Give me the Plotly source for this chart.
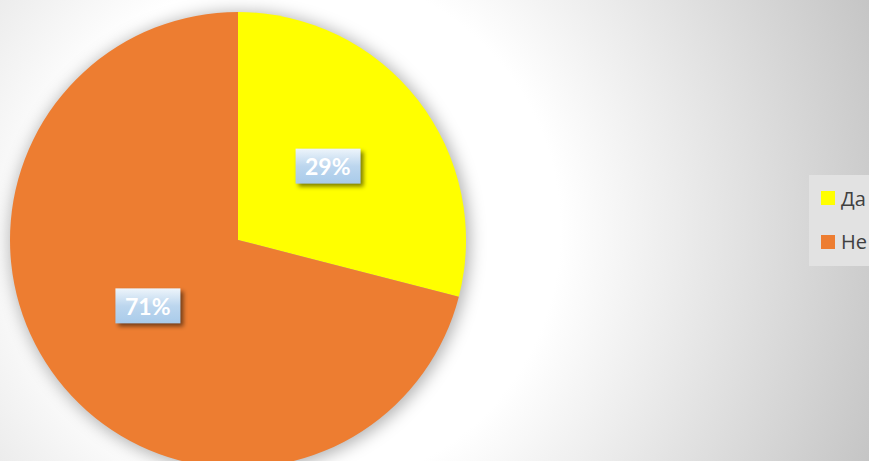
import base64
import math
import plotly.graph_objects as go

# Survey answers
labels = ["Да", "Не"]
values = [29, 71]
colors = ["#FFFF00", "#ED7D31"]

W, H = 869, 470
CX, CY, R = 238, 240, 228  # pie centre and radius in pixels


def px(x):
    return x / W


def py(y):
    return (H - y) / H


def svg_uri(svg):
    return "data:image/svg+xml;base64," + base64.b64encode(svg.encode("utf-8")).decode("ascii")


# background: soft radial grey gradient plus the pie's drop shadow
bg_svg = f"""<svg xmlns="http://www.w3.org/2000/svg" width="{W}" height="{H}" viewBox="0 0 {W} {H}">
<defs>
<radialGradient id="g" gradientUnits="userSpaceOnUse" cx="300" cy="230" r="620">
<stop offset="0" stop-color="#ffffff"/>
<stop offset="0.42" stop-color="#ffffff"/>
<stop offset="0.62" stop-color="#ebebeb"/>
<stop offset="1" stop-color="#c4c4c4"/>
</radialGradient>
<filter id="s" x="-20%" y="-20%" width="140%" height="140%">
<feGaussianBlur stdDeviation="8"/>
</filter>
</defs>
<rect width="{W}" height="{H}" fill="url(#g)"/>
<circle cx="{CX + 2}" cy="{CY + 2}" r="{R + 2}" fill="#000" fill-opacity="0.30" filter="url(#s)"/>
</svg>"""

BW, BH, PAD = 65, 35, 8
box_svg = f"""<svg xmlns="http://www.w3.org/2000/svg" width="{BW + 2 * PAD}" height="{BH + 2 * PAD}" viewBox="0 0 {BW + 2 * PAD} {BH + 2 * PAD}">
<defs>
<linearGradient id="b" x1="0" y1="0" x2="0" y2="1">
<stop offset="0" stop-color="#eef5fb"/>
<stop offset="0.5" stop-color="#bcd6ee"/>
<stop offset="1" stop-color="#a9cbea"/>
</linearGradient>
<filter id="f" x="-30%" y="-30%" width="160%" height="160%">
<feGaussianBlur stdDeviation="2"/>
</filter>
</defs>
<rect x="{PAD + 3}" y="{PAD + 3}" width="{BW}" height="{BH}" fill="#000" fill-opacity="0.5" filter="url(#f)"/>
<rect x="{PAD}" y="{PAD}" width="{BW}" height="{BH}" fill="url(#b)"/>
</svg>"""

fig = go.Figure(
    go.Pie(
        labels=labels,
        values=values,
        marker=dict(colors=colors, line=dict(width=0)),
        sort=False,
        direction="clockwise",
        rotation=0,
        textinfo="none",
        hoverinfo="label+percent",
        showlegend=False,
        domain=dict(x=[px(CX - R), px(CX + R)], y=[py(CY + R), py(CY - R)]),
    )
)

images = [
    dict(source=svg_uri(bg_svg), xref="paper", yref="paper", x=0, y=1,
         sizex=1, sizey=1, xanchor="left", yanchor="top", sizing="stretch", layer="below")
]
annotations = []
shapes = []

# percentage labels at the middle of each slice, half way out
total = sum(values)
start = 0.0
for lab, val in zip(labels, values):
    frac = val / total
    mid = (start + frac / 2) * 2 * math.pi
    start += frac
    lx = CX + 0.5 * R * math.sin(mid)
    ly = CY - 0.5 * R * math.cos(mid) - 4
    images.append(dict(
        source=svg_uri(box_svg), xref="paper", yref="paper",
        x=px(lx - BW / 2 - PAD), y=py(ly - BH / 2 - PAD),
        sizex=(BW + 2 * PAD) / W, sizey=(BH + 2 * PAD) / H,
        xanchor="left", yanchor="top", sizing="stretch", layer="above",
    ))
    annotations.append(dict(
        text=f"<b>{round(frac * 100)}%</b>", x=px(lx), y=py(ly), xref="paper", yref="paper",
        xanchor="center", yanchor="middle", showarrow=False,
        font=dict(family="Lato", size=23, color="#ffffff"),
    ))

# legend panel
shapes.append(dict(type="rect", xref="paper", yref="paper",
                   x0=px(809), x1=px(890), y0=py(266), y1=py(175),
                   fillcolor="#e2e2e2", line=dict(width=0), layer="below"))
for i, (lab, col) in enumerate(zip(labels, colors)):
    yc = 198 + i * 44
    shapes.append(dict(type="rect", xref="paper", yref="paper",
                       x0=px(821), x1=px(835), y0=py(yc + 7), y1=py(yc - 7),
                       fillcolor=col, line=dict(width=0)))
    annotations.append(dict(
        text=lab, x=px(839), y=py(yc), xref="paper", yref="paper",
        xanchor="left", yanchor="middle", showarrow=False,
        font=dict(family="Open Sans", size=20, color="#404040"),
    ))

fig.update_layout(
    width=W, height=H,
    margin=dict(l=0, r=0, t=0, b=0),
    paper_bgcolor="#ffffff",
    plot_bgcolor="rgba(0,0,0,0)",
    images=images,
    annotations=annotations,
    shapes=shapes,
    showlegend=False,
)

fig.write_html("out.html", post_script="document.body.style.overflow='hidden';",
               config=dict(displayModeBar=False))
